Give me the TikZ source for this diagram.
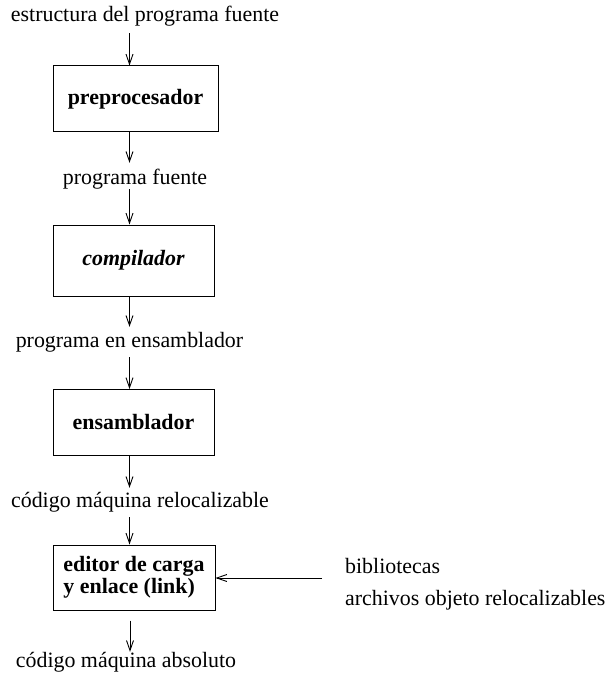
\documentclass[tikz,border=0pt]{standalone}
\usepackage{fontspec}
\setmainfont{Liberation Serif}
\usetikzlibrary{arrows.meta,calc}
\begin{document}
\begin{tikzpicture}[x=1pt,y=-1pt,
  every node/.style={font=\fontsize{21.9}{22}\selectfont},
  lbl/.style={anchor=base,inner sep=0pt,text height=15pt,text depth=5pt},
  procbox/.style={draw,line width=1pt,inner sep=0pt,font=\fontsize{21.9}{22}\selectfont\bfseries},
  arr/.style={line width=0.9pt,-{Straight Barb[length=10pt,width=7pt]}}]
\useasboundingbox (0,0) rectangle (609,679);
\coordinate (ax) at (129.5,0);
\coordinate (ax2) at (130,0);
% texts
\node[lbl] (t0) at (145,22) {estructura del programa fuente};
\node[lbl] (t1) at (135,184) {programa fuente};
\node[lbl] (t2) at (129.5,347) {programa en ensamblador};
\node[lbl] (t3) at (140,507) {código máquina relocalizable};
\node[lbl] (t4) at (126,667) {código máquina absoluto};
\node[lbl,anchor=base west] (lib) at (345,573) {bibliotecas};
\node[lbl,anchor=base west] (obj) at (345,605) {archivos objeto relocalizables};
% boxes
\node[procbox,minimum width=165pt,minimum height=66pt] (b1) at (135.5,99) {preprocesador};
\node[procbox,minimum width=161pt,minimum height=71pt,font=\fontsize{21.9}{22}\selectfont\bfseries\itshape] (b2) at (133.5,260.5) {compilador};
\node[procbox,minimum width=161pt,minimum height=66pt] (b3) at (133.5,422.5) {ensamblador};
\node[procbox,minimum width=162pt,minimum height=65pt,align=left] (b4) at (134,577.5) {editor de carga\\y enlace (link)};
\coordinate (src) at (322,578);
% arrows
\draw[arr,shorten <=6pt] (t0.south -| ax) -- (b1.north -| ax);
\draw[arr,shorten >=6pt] (b1.south -| ax) -- (t1.north -| ax);
\draw[arr] (t1.south -| ax) -- (b2.north -| ax);
\draw[arr,shorten >=5pt] (b2.south -| ax) -- (t2.north -| ax);
\draw[arr,shorten <=5pt] (t2.south -| ax) -- (b3.north -| ax);
\draw[arr,shorten >=4pt] (b3.south -| ax) -- (t3.north -| ax);
\draw[arr,shorten <=5pt] (t3.south -| ax) -- (b4.north -| ax);
\draw[arr,shorten <=10pt] (b4.south -| ax2) -- (t4.north -| ax2);
\draw[arr] (src) -- (src -| b4.east);
\end{tikzpicture}
\end{document}
